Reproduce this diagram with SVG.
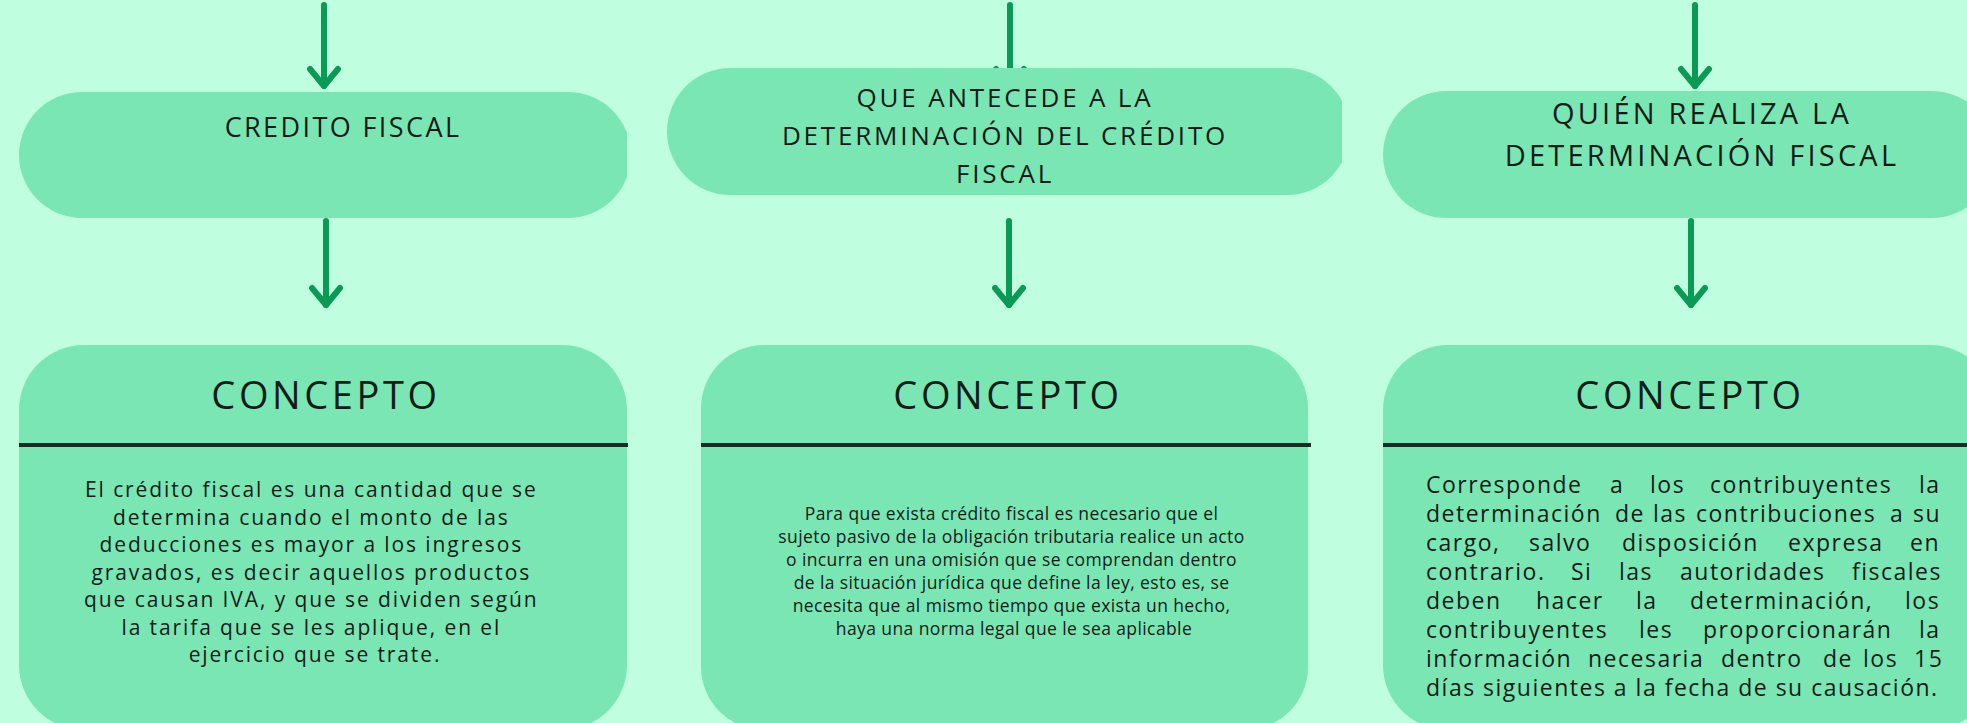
<svg xmlns="http://www.w3.org/2000/svg" width="1967" height="723" viewBox="0 0 1967 723">
<style>
.bg{fill:#c0fee0}
.shape{fill:#7ae6b4}
.arrow{fill:none;stroke:#0b9a55;stroke-width:6;stroke-linecap:round}
.sep{stroke:#1b2a22;stroke-width:4}
.t{font-family:"Open Sans","Noto Sans","Liberation Sans",sans-serif;fill:#141c18}
.title{font-size:27px;letter-spacing:2.4px;text-anchor:middle}
.t2{font-size:26px;letter-spacing:2.8px}
.t3{font-size:29px;letter-spacing:3.2px}
.head{font-size:38px;letter-spacing:3.6px;text-anchor:middle}
.b1{font-size:21px;letter-spacing:1.9px;text-anchor:middle}
.b2{font-size:17.5px;letter-spacing:0.4px;text-anchor:middle}
.b3{font-size:23px;letter-spacing:1.5px}
</style>
<defs>
<marker id="ah" markerUnits="userSpaceOnUse" markerWidth="50" markerHeight="50" viewBox="-25 -25 50 50" refX="0" refY="0" orient="auto" overflow="visible">
<path d="M -17 -14 L 0 0 L -17 14" fill="none" stroke="#0b9a55" stroke-width="6" stroke-linecap="round" stroke-linejoin="round"/>
</marker>
<clipPath id="c1"><rect x="0" y="0" width="627" height="723"/></clipPath>
<clipPath id="c2"><rect x="640" y="0" width="702" height="723"/></clipPath>
</defs>
<rect class="bg" x="0" y="0" width="1967" height="723"/>
<g id="connectors">
<path class="arrow" d="M324 5 L324 86" marker-end="url(#ah)"/>
<path class="arrow" d="M326 221 L326 305" marker-end="url(#ah)"/>
<path class="arrow" d="M1010 5 L1010 86" marker-end="url(#ah)"/>
<path class="arrow" d="M1009 221 L1009 305" marker-end="url(#ah)"/>
<path class="arrow" d="M1695 5 L1695 86" marker-end="url(#ah)"/>
<path class="arrow" d="M1691 221 L1691 305" marker-end="url(#ah)"/>
</g>
<g id="pill1">
<rect class="shape" x="19" y="92" width="612" height="126" rx="63" clip-path="url(#c1)"/>
<text class="t title" x="343" y="137">CREDITO FISCAL</text>
</g>
<g id="pill2">
<rect class="shape" x="667" y="68" width="683" height="127" rx="63.5" clip-path="url(#c2)"/>
<text class="t title t2" x="1005" y="107">QUE ANTECEDE A LA</text>
<text class="t title t2" x="1005" y="145">DETERMINACIÓN DEL CRÉDITO</text>
<text class="t title t2" x="1005" y="183">FISCAL</text>
</g>
<g id="pill3">
<rect class="shape" x="1383" y="91" width="612" height="127" rx="63.5"/>
<text class="t title t3" x="1702" y="124">QUIÉN REALIZA LA</text>
<text class="t title t3" x="1702" y="166">DETERMINACIÓN FISCAL</text>
</g>
<g id="concepto1">
<rect class="shape" x="19" y="345" width="608" height="385" rx="65"/>
<line class="sep" x1="19" y1="445" x2="628" y2="445"/>
<text class="t head" x="326" y="409">CONCEPTO</text>
<text class="t b1" x="315">
<tspan x="315" y="497">El crédito fiscal es una cantidad que se</tspan>
<tspan x="315" y="524.5">determina cuando el monto de las</tspan>
<tspan x="315" y="552">deducciones es mayor a los ingresos</tspan>
<tspan x="315" y="579.5">gravados, es decir aquellos productos</tspan>
<tspan x="315" y="607">que causan IVA, y que se dividen según</tspan>
<tspan x="315" y="634.5">la tarifa que se les aplique, en el</tspan>
<tspan x="315" y="662">ejercicio que se trate.</tspan>
</text>
</g>
<g id="concepto2">
<rect class="shape" x="701" y="345" width="607" height="385" rx="63"/>
<line class="sep" x1="701" y1="445" x2="1311" y2="445"/>
<text class="t head" x="1008" y="409">CONCEPTO</text>
<text class="t b2">
<tspan x="1014" y="520">Para que exista crédito fiscal es necesario que el</tspan>
<tspan x="1014" y="543">sujeto pasivo de la obligación tributaria realice un acto</tspan>
<tspan x="1014" y="566">o incurra en una omisión que se comprendan dentro</tspan>
<tspan x="1014" y="589">de la situación jurídica que define la ley, esto es, se</tspan>
<tspan x="1014" y="612">necesita que al mismo tiempo que exista un hecho,</tspan>
<tspan x="1014" y="635">haya una norma legal que le sea aplicable</tspan>
</text>
</g>
<g id="concepto3">
<rect class="shape" x="1383" y="345" width="612" height="385" rx="65"/>
<line class="sep" x1="1383" y1="445" x2="1967" y2="445"/>
<text class="t head" x="1690" y="409">CONCEPTO</text>
<text class="t b3">
<tspan x="1426" y="493">Corresponde</tspan><tspan x="1610" y="493">a</tspan><tspan x="1650" y="493">los</tspan><tspan x="1710" y="493">contribuyentes</tspan><tspan x="1919" y="493">la</tspan>
<tspan x="1426" y="522">determinación</tspan><tspan x="1615" y="522">de</tspan><tspan x="1653" y="522">las</tspan><tspan x="1696" y="522">contribuciones</tspan><tspan x="1890" y="522">a</tspan><tspan x="1913" y="522">su</tspan>
<tspan x="1426" y="551">cargo,</tspan><tspan x="1529" y="551">salvo</tspan><tspan x="1622" y="551">disposición</tspan><tspan x="1788" y="551">expresa</tspan><tspan x="1910" y="551">en</tspan>
<tspan x="1426" y="580">contrario.</tspan><tspan x="1571" y="580">Si</tspan><tspan x="1619" y="580">las</tspan><tspan x="1680" y="580">autoridades</tspan><tspan x="1852" y="580">fiscales</tspan>
<tspan x="1426" y="609">deben</tspan><tspan x="1536" y="609">hacer</tspan><tspan x="1636" y="609">la</tspan><tspan x="1690" y="609">determinación,</tspan><tspan x="1905" y="609">los</tspan>
<tspan x="1426" y="638">contribuyentes</tspan><tspan x="1639" y="638">les</tspan><tspan x="1703" y="638">proporcionarán</tspan><tspan x="1919" y="638">la</tspan>
<tspan x="1426" y="667">información</tspan><tspan x="1588" y="667">necesaria</tspan><tspan x="1721" y="667">dentro</tspan><tspan x="1823" y="667">de</tspan><tspan x="1863" y="667">los</tspan><tspan x="1914" y="667">15</tspan>
<tspan x="1426" y="696">días siguientes a la fecha de su causación.</tspan>
</text>
</g>
</svg>
